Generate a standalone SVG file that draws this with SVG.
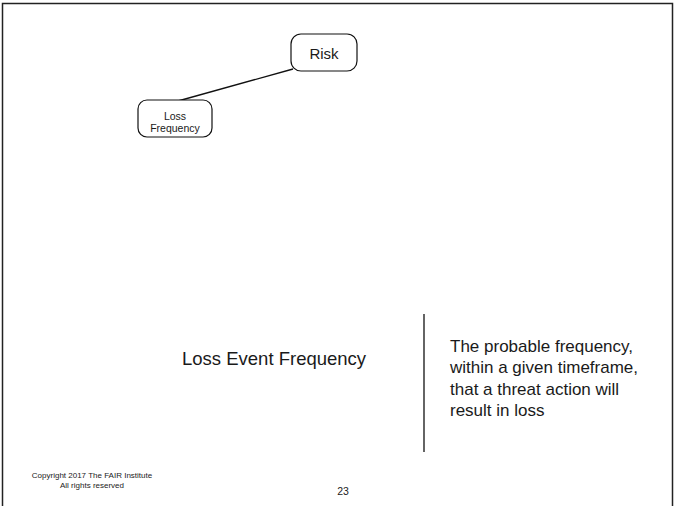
<svg xmlns="http://www.w3.org/2000/svg" width="674" height="506" viewBox="0 0 674 506">
  <style>
    .box { fill: #ffffff; stroke: #111111; stroke-width: 1.2; }
    .edge { stroke: #111111; stroke-width: 1.3; fill: none; }
    .sans { font-family: "Liberation Sans", Arial, sans-serif; fill: #1a1a1a; }
    .foot { font-family: "Liberation Sans", Arial, sans-serif; fill: #222222; }
  </style>
  <rect x="0" y="0" width="674" height="506" fill="#ffffff"/>
  <!-- slide frame -->
  <path d="M2.5,520 V3.5 H672.5 V520" fill="none" stroke="#222222" stroke-width="1.5"/>

  <g id="connectors">
    <line class="edge" x1="178" y1="101" x2="293" y2="69"/>
  </g>

  <g id="node-risk">
    <rect class="box" x="291" y="34" width="66" height="37" rx="10" ry="10"/>
    <text class="sans" x="324" y="59" font-size="15" text-anchor="middle">Risk</text>
  </g>

  <g id="node-loss-frequency">
    <rect class="box" x="138" y="100" width="74" height="37" rx="9" ry="9"/>
    <text class="sans" x="175" y="120" font-size="10.5" text-anchor="middle">Loss</text>
    <text class="sans" x="175" y="132" font-size="10.5" text-anchor="middle">Frequency</text>
  </g>

  <g id="definition">
    <text class="sans" x="182" y="365" font-size="18.5">Loss Event Frequency</text>
    <line x1="424" y1="314" x2="424" y2="452" stroke="#111111" stroke-width="1.3"/>
    <text class="sans" font-size="17">
      <tspan x="450" y="352">The probable frequency,</tspan>
      <tspan x="450" y="373">within a given timeframe,</tspan>
      <tspan x="450" y="395">that a threat action will</tspan>
      <tspan x="450" y="416">result in loss</tspan>
    </text>
  </g>

  <g id="footer">
    <text class="foot" x="92" y="478" font-size="8" text-anchor="middle">Copyright 2017 The FAIR Institute</text>
    <text class="foot" x="92" y="488" font-size="8" text-anchor="middle">All rights reserved</text>
    <text class="foot" x="343" y="495" font-size="10.5" text-anchor="middle">23</text>
  </g>
</svg>
